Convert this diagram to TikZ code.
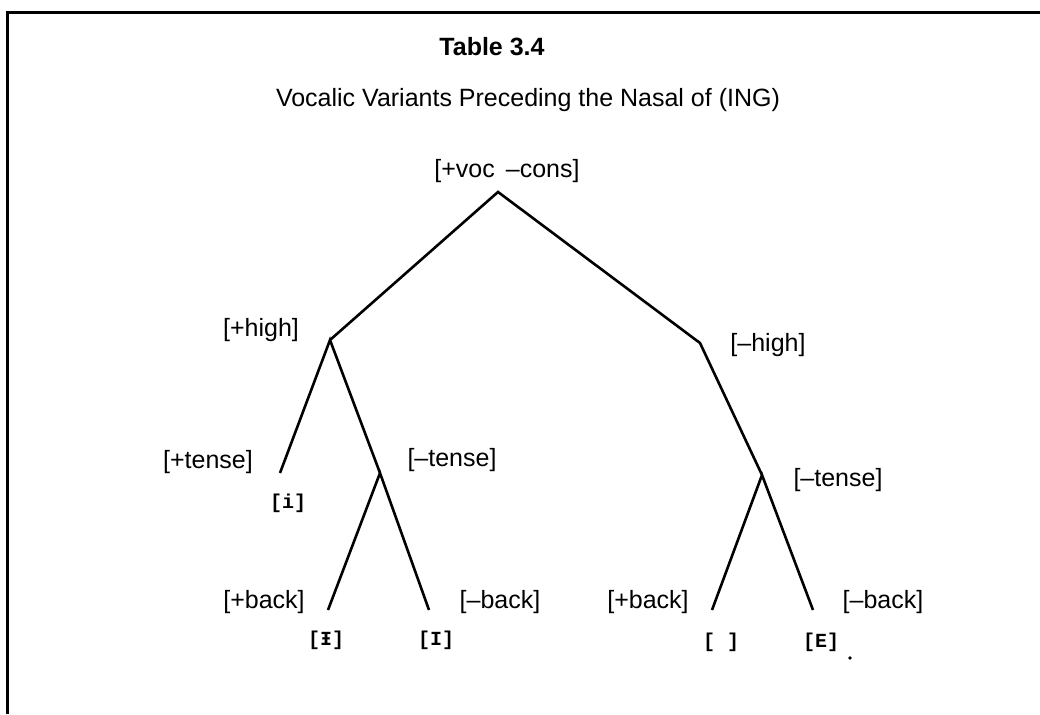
\documentclass[tikz,border=0pt]{standalone}
\usepackage{fontspec}
\setmainfont{Liberation Sans}
\newfontfamily\segfont{Liberation Mono}
\usetikzlibrary{positioning}

\tikzset{
  feat/.style={inner sep=0pt, font=\fontsize{25}{30}\selectfont},
  seg/.style={inner sep=0pt, font=\segfont\bfseries\fontsize{20}{24}\selectfont},
  branch/.style={line width=2.6pt},
}

\begin{document}
\begin{tikzpicture}[x=1pt, y=-1pt]
  \useasboundingbox (0,0) rectangle (1040,714);

  % frame, open at the right and bottom
  \draw [line width=3pt] (7.5,714) -- (7.5,12.5) -- (1040,12.5);

  \node [feat, font=\fontsize{25}{30}\selectfont\bfseries] (ttl) at (492,47) {Table 3.4};
  \node [feat] (sub) at (528,100) {Vocalic Variants Preceding the Nasal of (ING)};

  % branching points
  \coordinate (top) at (498,192);
  \coordinate (hi) at (330,340);
  \coordinate (lo) at (700,343);
  \coordinate (hitns) at (380,473);
  \coordinate (lotns) at (762,475);
  % ends of the branches
  \coordinate (hiten) at (280,473);
  \coordinate (hibk) at (328,610);
  \coordinate (hifr) at (429,610);
  \coordinate (lobk) at (712,610);
  \coordinate (lofr) at (813,610);

  \begin{scope}[branch]
    \draw (hi) -- (top) -- (lo) -- (lotns);
    \draw (hiten) -- (hi) -- (hitns);
    \draw (hibk) -- (hitns) -- (hifr);
    \draw (lobk) -- (lotns) -- (lofr);
  \end{scope}

  \begin{scope}[every node/.style={feat}]
    \node (vc) at (507,171) {[+voc \,--cons]};
    \node (ph) at (261,330) {[+high]};
    \node (mh) at (768,345) {[--high]};
    \node (pt) at (208,462) {[+tense]};
    \node (mt1) at (452,460) {[--tense]};
    \node (mt2) at (838,480) {[--tense]};
    \node (pb1) at (264,602) {[+back]};
    \node (mb1) at (500,602) {[--back]};
    \node (pb2) at (648,602) {[+back]};
    \node (mb2) at (883,602) {[--back]};
  \end{scope}

  \begin{scope}[every node/.style={seg}]
    \node (si) at (288,503) {[i]};
    \node (sbar) at (326,640) {[Ɨ]};
    \node (sI) at (436,640) {[I]};
    \node (sgap) at (721,642) {[ ]};
    \node (sE) at (821,642) {[E]};
  \end{scope}

  \fill (850,658) circle (1.8);
\end{tikzpicture}
\end{document}
